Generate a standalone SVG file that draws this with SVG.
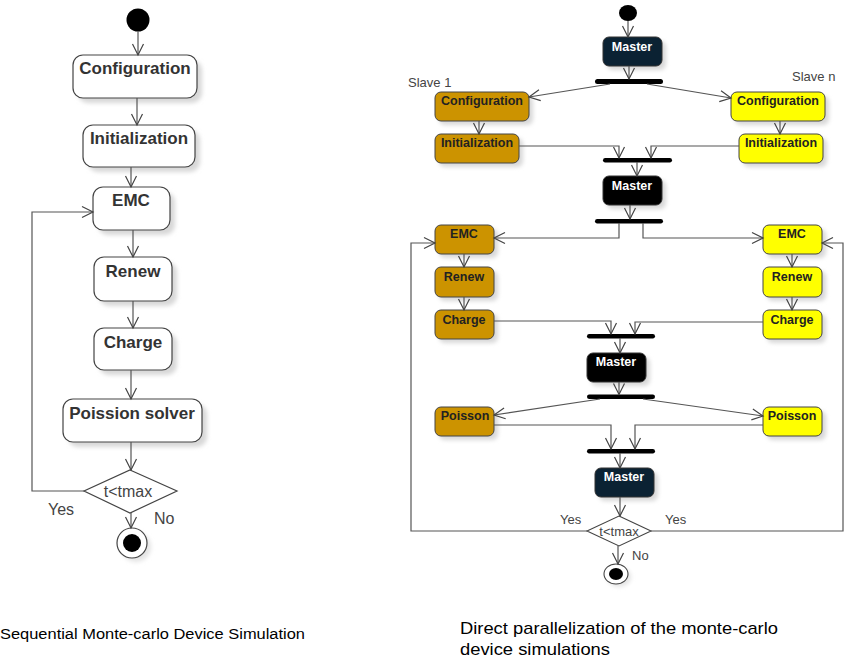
<svg xmlns="http://www.w3.org/2000/svg" width="866" height="666" viewBox="0 0 866 666">
<defs>
<marker id="ah" markerWidth="14" markerHeight="14" refX="12" refY="7" orient="auto" markerUnits="userSpaceOnUse">
<path d="M1,1.5 L12,7 L1,12.5" fill="none" stroke="#444" stroke-width="1.2"/>
</marker>
<filter id="sh" x="-20%" y="-20%" width="150%" height="160%">
<feGaussianBlur stdDeviation="2"/>
</filter>
</defs>
<style>
.box{fill:#fff;stroke:#444;stroke-width:1.2}
.shd{fill:#d8d8d8;filter:url(#sh)}
.gold{fill:#cc9300;stroke:#444;stroke-width:1}
.yel{fill:#ffff00;stroke:#444;stroke-width:1}
.navy{fill:#0b2233;stroke:#333;stroke-width:1}
.blk{fill:#000;stroke:#333;stroke-width:1}
.bar{fill:#000}
.ln{fill:none;stroke:#555;stroke-width:1.2}
.lnA{fill:none;stroke:#555;stroke-width:1.2;marker-end:url(#ah)}
.t1{font-family:"Liberation Sans",Arial,sans-serif;font-weight:bold;font-size:17px;fill:#333;text-anchor:middle}
.t2{font-family:"Liberation Sans",Arial,sans-serif;font-weight:bold;font-size:12.5px;fill:#222;text-anchor:middle}
.tw{font-family:"Liberation Sans",Arial,sans-serif;font-weight:bold;font-size:12.5px;fill:#fff;text-anchor:middle}
.lbl{font-family:"Liberation Sans",Arial,sans-serif;font-size:16px;fill:#444}
.lbl2{font-family:"Liberation Sans",Arial,sans-serif;font-size:13px;fill:#444}
.cap{font-family:"Liberation Sans",Arial,sans-serif;fill:#000}
</style>

<!-- LEFT DIAGRAM -->
<g id="L-start"><circle cx="138" cy="20" r="11.5" fill="#000"/></g>
<g id="L-config"><rect class="shd" x="78" y="60" width="124" height="43" rx="10"/><rect class="box" x="73" y="55" width="124" height="43" rx="10"/><text class="t1" x="135" y="74">Configuration</text></g>
<g id="L-init"><rect class="shd" x="88" y="130" width="112" height="42" rx="10"/><rect class="box" x="83" y="125" width="112" height="42" rx="10"/><text class="t1" x="139" y="144">Initialization</text></g>
<g id="L-emc"><rect class="shd" x="98" y="192" width="77" height="43" rx="10"/><rect class="box" x="93" y="187" width="77" height="43" rx="10"/><text class="t1" x="131" y="206">EMC</text></g>
<g id="L-renew"><rect class="shd" x="99" y="262" width="78" height="44" rx="10"/><rect class="box" x="94" y="257" width="78" height="44" rx="10"/><text class="t1" x="133" y="277">Renew</text></g>
<g id="L-charge"><rect class="shd" x="99" y="333" width="78" height="42" rx="10"/><rect class="box" x="94" y="328" width="78" height="42" rx="10"/><text class="t1" x="133" y="348">Charge</text></g>
<g id="L-poisson"><rect class="shd" x="68" y="404" width="139" height="43" rx="10"/><rect class="box" x="63" y="399" width="139" height="43" rx="10"/><text class="t1" x="132" y="419">Poission solver</text></g>
<g id="L-decision"><polygon points="130,470 177,491 130,513 84,491" fill="#fff" stroke="#444" stroke-width="1.2"/><text class="lbl" x="128" y="497" text-anchor="middle">t&lt;tmax</text></g>
<g id="L-end"><circle cx="136" cy="547" r="15" fill="#e4e4e4" filter="url(#sh)"/><circle cx="132" cy="543" r="15" fill="#fff" stroke="#444" stroke-width="1.2"/><circle cx="132" cy="543" r="9" fill="#000"/></g>

<g id="L-connectors">
<path class="lnA" d="M138,31 V55"/>
<path class="lnA" d="M137,98 V125"/>
<path class="lnA" d="M131,167 V187"/>
<path class="lnA" d="M133,230 V257"/>
<path class="lnA" d="M133,301 V328"/>
<path class="lnA" d="M131,370 V399"/>
<path class="lnA" d="M131,442 V470"/>
<path class="lnA" d="M131,513 V528"/>
<path class="lnA" d="M84,491 H32 V212 H93"/>
<text class="lbl" x="48" y="515">Yes</text>
<text class="lbl" x="154" y="524">No</text>
</g>

<!-- RIGHT DIAGRAM -->
<g id="R-start"><ellipse cx="628" cy="13" rx="9" ry="8" fill="#000"/></g>
<g id="R-master1"><rect class="shd" x="607" y="41" width="59" height="29" rx="6"/><rect class="navy" x="603" y="37" width="59" height="29" rx="6"/><text class="tw" x="632" y="51">Master</text></g>
<g id="R-bar1"><rect class="bar" x="595" y="79" width="68" height="5" rx="2.5"/></g>
<g id="R-config1"><rect class="shd" x="439" y="96" width="94" height="29" rx="6"/><rect class="gold" x="435" y="92" width="94" height="29" rx="6"/><text class="t2" x="482" y="105">Configuration</text></g>
<g id="R-confign"><rect class="shd" x="735" y="96" width="94" height="29" rx="6"/><rect class="yel" x="731" y="92" width="94" height="29" rx="6"/><text class="t2" x="778" y="105">Configuration</text></g>
<g id="R-init1"><rect class="shd" x="439" y="138" width="84" height="29" rx="6"/><rect class="gold" x="435" y="134" width="84" height="29" rx="6"/><text class="t2" x="477" y="147">Initialization</text></g>
<g id="R-initn"><rect class="shd" x="743" y="138" width="84" height="29" rx="6"/><rect class="yel" x="739" y="134" width="84" height="29" rx="6"/><text class="t2" x="781" y="147">Initialization</text></g>
<g id="R-bar2"><rect class="bar" x="603" y="158" width="69" height="4.5" rx="2.2"/></g>
<g id="R-master2"><rect class="shd" x="607" y="180" width="59" height="29" rx="6"/><rect class="blk" x="603" y="176" width="59" height="29" rx="6"/><text class="tw" x="632" y="190">Master</text></g>
<g id="R-bar3"><rect class="bar" x="595" y="219" width="68" height="4.5" rx="2.2"/></g>
<g id="R-emc1"><rect class="shd" x="439" y="229" width="59" height="29" rx="6"/><rect class="gold" x="435" y="225" width="59" height="29" rx="6"/><text class="t2" x="464" y="238">EMC</text></g>
<g id="R-emcn"><rect class="shd" x="767" y="229" width="59" height="29" rx="6"/><rect class="yel" x="763" y="225" width="59" height="29" rx="6"/><text class="t2" x="792" y="238">EMC</text></g>
<g id="R-renew1"><rect class="shd" x="439" y="271" width="59" height="30" rx="6"/><rect class="gold" x="435" y="267" width="59" height="30" rx="6"/><text class="t2" x="464" y="281">Renew</text></g>
<g id="R-renewn"><rect class="shd" x="767" y="271" width="59" height="30" rx="6"/><rect class="yel" x="763" y="267" width="59" height="30" rx="6"/><text class="t2" x="792" y="281">Renew</text></g>
<g id="R-charge1"><rect class="shd" x="439" y="314" width="59" height="29" rx="6"/><rect class="gold" x="435" y="310" width="59" height="29" rx="6"/><text class="t2" x="464" y="324">Charge</text></g>
<g id="R-chargen"><rect class="shd" x="767" y="314" width="59" height="29" rx="6"/><rect class="yel" x="763" y="310" width="59" height="29" rx="6"/><text class="t2" x="792" y="324">Charge</text></g>
<g id="R-bar4"><rect class="bar" x="587" y="334" width="68" height="4.5" rx="2.2"/></g>
<g id="R-master3"><rect class="shd" x="591" y="357" width="59" height="29" rx="6"/><rect class="blk" x="587" y="353" width="59" height="29" rx="6"/><text class="tw" x="616" y="366">Master</text></g>
<g id="R-bar5"><rect class="bar" x="587" y="394.5" width="68" height="4.5" rx="2.2"/></g>
<g id="R-poisson1"><rect class="shd" x="439" y="411" width="59" height="29" rx="6"/><rect class="gold" x="435" y="407" width="59" height="29" rx="6"/><text class="t2" x="465" y="420">Poisson</text></g>
<g id="R-poissonn"><rect class="shd" x="767" y="411" width="59" height="29" rx="6"/><rect class="yel" x="763" y="407" width="59" height="29" rx="6"/><text class="t2" x="792" y="420">Poisson</text></g>
<g id="R-bar6"><rect class="bar" x="587" y="449" width="68" height="4.5" rx="2.2"/></g>
<g id="R-master4"><rect class="shd" x="599" y="472" width="59" height="29" rx="6"/><rect class="navy" x="595" y="468" width="59" height="29" rx="6"/><text class="tw" x="624" y="481">Master</text></g>
<g id="R-decision"><polygon points="619,516 651,531 619,546 587,531" fill="#fff" stroke="#444" stroke-width="1.1"/><text class="lbl2" x="619" y="536" text-anchor="middle">t&lt;tmax</text></g>
<g id="R-end"><ellipse cx="619" cy="577" rx="12" ry="10" fill="#e4e4e4" filter="url(#sh)"/><ellipse cx="616" cy="574" rx="12" ry="10" fill="#fff" stroke="#444" stroke-width="1.1"/><ellipse cx="616" cy="574" rx="7" ry="6" fill="#000"/></g>

<g id="R-connectors">
<path class="lnA" d="M628,21 V37"/>
<path class="lnA" d="M629,66 V79"/>
<path class="lnA" d="M610,84 L529,97"/>
<path class="lnA" d="M647,84 L731,98"/>
<path class="lnA" d="M479,121 V134"/>
<path class="lnA" d="M780,121 V134"/>
<path class="lnA" d="M519,146 H619 V158"/>
<path class="lnA" d="M739,146 H651 V158"/>
<path class="lnA" d="M637,162 V176"/>
<path class="lnA" d="M630,205 V219"/>
<path class="lnA" d="M619,223 V238 H494"/>
<path class="lnA" d="M643,223 V238 H763"/>
<path class="lnA" d="M464,254 V267"/>
<path class="lnA" d="M792,254 V267"/>
<path class="lnA" d="M464,297 V310"/>
<path class="lnA" d="M792,297 V310"/>
<path class="lnA" d="M494,321 H611 V334"/>
<path class="lnA" d="M763,322 H635 V334"/>
<path class="lnA" d="M620,338 V353"/>
<path class="lnA" d="M619,382 V394.5"/>
<path class="lnA" d="M600,399 L494,415"/>
<path class="lnA" d="M643,399 L763,416"/>
<path class="lnA" d="M494,425 H611 V449"/>
<path class="lnA" d="M763,425 H635 V449"/>
<path class="lnA" d="M620,453 V468"/>
<path class="lnA" d="M620,497 V516"/>
<path class="lnA" d="M618,546 V564"/>
<path class="lnA" d="M587,531 H411 V243 H435"/>
<path class="lnA" d="M651,531 H843 V243 H822"/>
<text class="lbl2" x="560" y="524">Yes</text>
<text class="lbl2" x="665" y="524">Yes</text>
<text class="lbl2" x="632" y="560">No</text>
<text class="lbl2" x="408" y="87">Slave 1</text>
<text class="lbl2" x="792" y="81">Slave n</text>
</g>

<text class="cap" x="0" y="639" font-size="15.5" textLength="305" lengthAdjust="spacingAndGlyphs">Sequential Monte-carlo Device Simulation</text>
<text class="cap" x="460" y="634" font-size="17" textLength="318" lengthAdjust="spacingAndGlyphs">Direct parallelization of the monte-carlo</text>
<text class="cap" x="460" y="655" font-size="17" textLength="150" lengthAdjust="spacingAndGlyphs">device simulations</text>
</svg>
